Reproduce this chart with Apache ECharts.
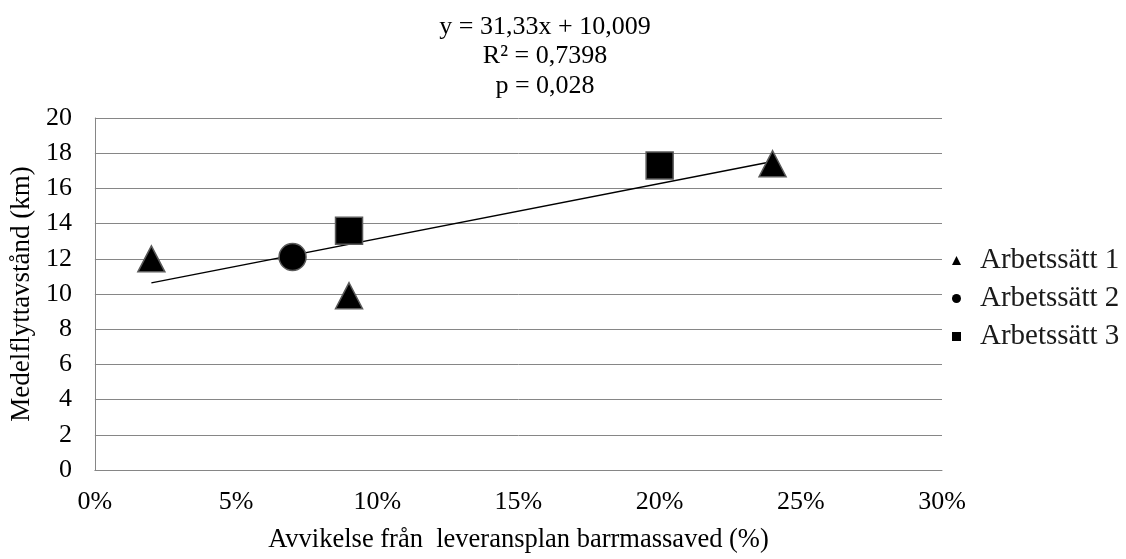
<!DOCTYPE html>
<html>
<head>
<meta charset="utf-8">
<script src="https://cdn.jsdelivr.net/npm/echarts@6/dist/echarts.min.js"></script>
<style>
  html, body { margin: 0; padding: 0; background: #fff; }
  #chart { width: 1126px; height: 559px; }
</style>
</head>
<body>
<div id="chart"></div>
<script>
// Deviation from delivery plan (fraction) and mean haul distance (km), per working method
const arbetssatt1X = [0.02, 0.09, 0.24];
const arbetssatt1Y = [12.0, 9.9, 17.4];
const arbetssatt2X = [0.07];
const arbetssatt2Y = [12.1];
const arbetssatt3X = [0.09, 0.20];
const arbetssatt3Y = [13.6, 17.3];

// Linear trend from the fitted equation shown above the plot
const trendSlope = 31.33;
const trendIntercept = 10.009;
const trendXRange = [0.02, 0.24];

const seriesNames = ['Arbetssätt 1', 'Arbetssätt 2', 'Arbetssätt 3'];
const equationLines = ['y = 31,33x + 10,009', 'R² = 0,7398', 'p = 0,028'];
const xAxisTitle = 'Avvikelse från  leveransplan barrmassaved (%)';
const yAxisTitle = 'Medelflyttavstånd (km)';

const FONT = '"Liberation Serif", "Times New Roman", serif';
const GRID_COLOR = '#868686';
const MARKER_BORDER = '#5a5a5a';

function pairs(xs, ys) {
  return xs.map((x, i) => [x, ys[i]]);
}

const trendData = trendXRange.map(x => [x, trendSlope * x + trendIntercept]);

const chart = echarts.init(document.getElementById('chart'), null, { renderer: 'canvas' });

const markerStyle = {
  color: '#000',
  borderColor: MARKER_BORDER,
  borderWidth: 1.5,
  opacity: 1
};

chart.setOption({
  animation: false,
  backgroundColor: '#fff',
  textStyle: { fontFamily: FONT },
  graphic: [{
    type: 'text',
    x: 545,
    y: 12,
    style: {
      text: equationLines.join('\n'),
      align: 'center',
      verticalAlign: 'top',
      fontFamily: FONT,
      fontSize: 26,
      lineHeight: 29.5,
      fill: '#000'
    }
  }],
  grid: {
    left: 93,
    right: 184,
    top: 118,
    bottom: 84,
    containLabel: false
  },
  legend: {
    orient: 'vertical',
    left: 947,
    top: 241,
    itemGap: 9,
    itemWidth: 9,
    itemHeight: 9,
    data: [
      { name: seriesNames[0], icon: 'triangle' },
      { name: seriesNames[1], icon: 'circle' },
      { name: seriesNames[2], icon: 'rect' }
    ],
    itemStyle: { color: '#000', borderWidth: 0 },
    textStyle: {
      fontFamily: FONT,
      fontSize: 29,
      color: '#1a1a1a',
      padding: [0, 0, 0, 14]
    }
  },
  xAxis: {
    type: 'value',
    min: 0,
    max: 0.3,
    interval: 0.05,
    name: xAxisTitle,
    nameLocation: 'middle',
    nameGap: 57,
    nameTextStyle: { fontFamily: FONT, fontSize: 26.5, color: '#000' },
    axisLine: { show: true, lineStyle: { color: GRID_COLOR, width: 1 } },
    axisTick: { show: false },
    splitLine: { show: false },
    axisLabel: {
      margin: 19,
      fontFamily: FONT,
      fontSize: 26,
      color: '#000',
      formatter: v => Math.round(v * 100) + '%'
    }
  },
  yAxis: {
    type: 'value',
    min: 0,
    max: 20,
    interval: 2,
    name: yAxisTitle,
    nameLocation: 'middle',
    nameGap: 55,
    nameTextStyle: { fontFamily: FONT, fontSize: 27, color: '#000' },
    axisLine: { show: true, lineStyle: { color: GRID_COLOR, width: 1 } },
    axisTick: { show: false },
    splitLine: { show: true, lineStyle: { color: GRID_COLOR, width: 1 } },
    axisLabel: {
      margin: 23,
      fontFamily: FONT,
      fontSize: 26,
      color: '#000'
    }
  },
  series: [
    {
      name: 'Trend',
      type: 'line',
      data: trendData,
      showSymbol: false,
      symbol: 'none',
      lineStyle: { color: '#000', width: 1.4 },
      z: 1,
      silent: true
    },
    {
      name: seriesNames[0],
      type: 'scatter',
      symbol: 'triangle',
      symbolSize: [27, 26],
      data: pairs(arbetssatt1X, arbetssatt1Y),
      itemStyle: markerStyle,
      z: 3
    },
    {
      name: seriesNames[1],
      type: 'scatter',
      symbol: 'circle',
      symbolSize: 27,
      data: pairs(arbetssatt2X, arbetssatt2Y),
      itemStyle: markerStyle,
      z: 3
    },
    {
      name: seriesNames[2],
      type: 'scatter',
      symbol: 'rect',
      symbolSize: 27,
      data: pairs(arbetssatt3X, arbetssatt3Y),
      itemStyle: markerStyle,
      z: 3
    }
  ]
});
</script>
</body>
</html>
